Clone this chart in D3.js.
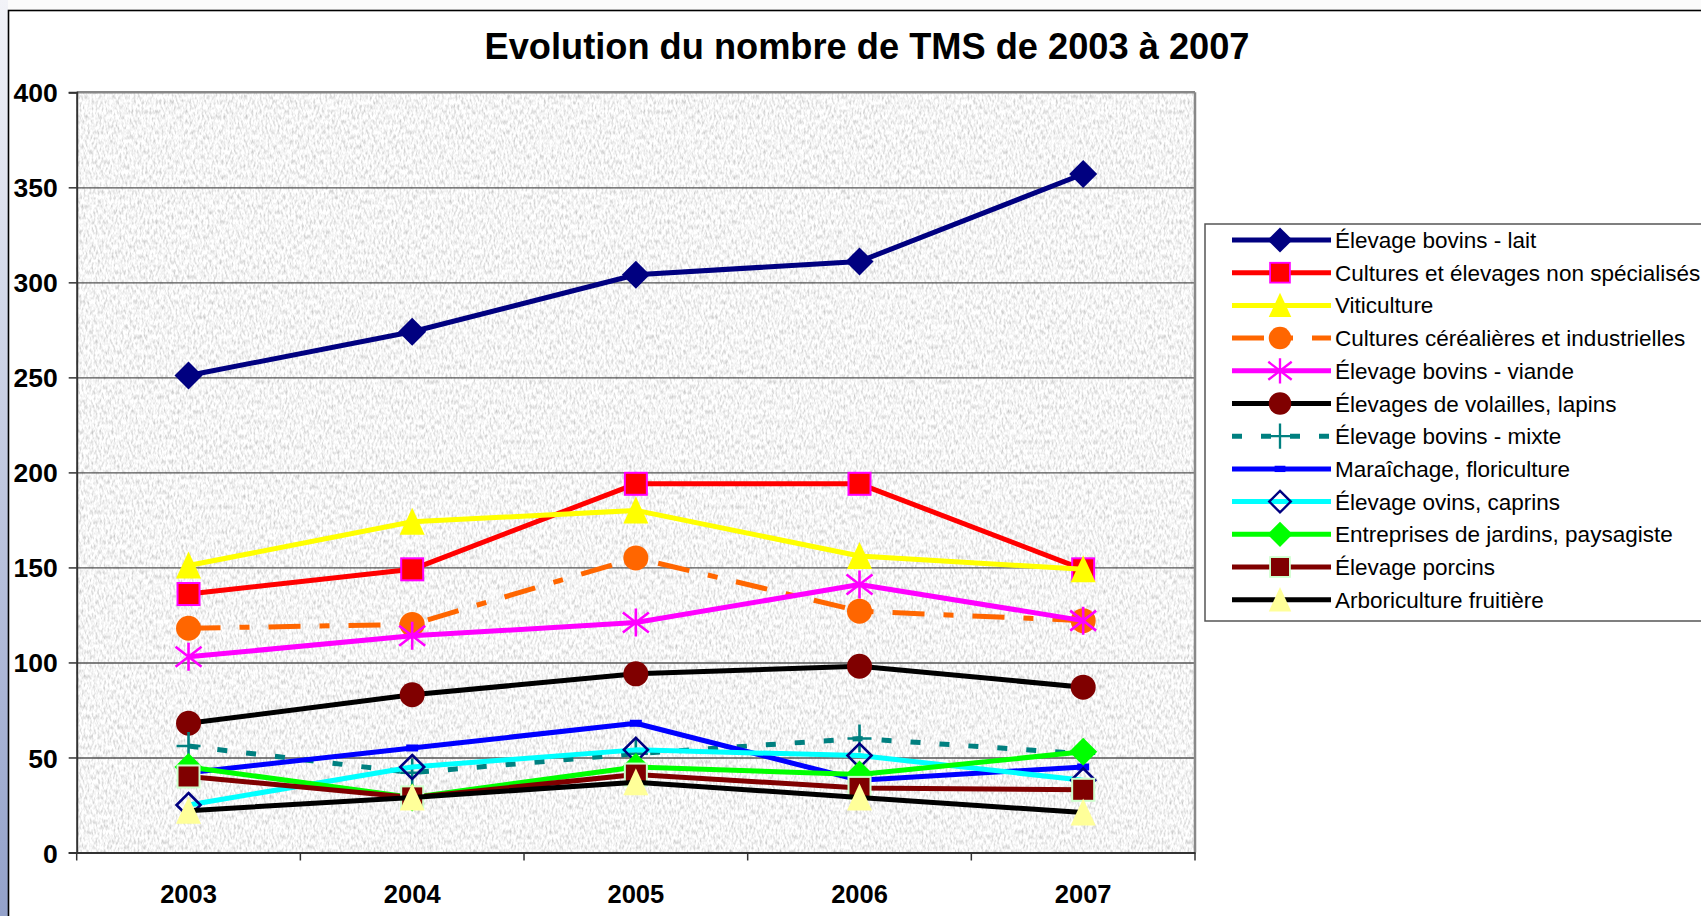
<!DOCTYPE html>
<html>
<head>
<meta charset="utf-8">
<script src="https://cdn.jsdelivr.net/npm/d3@7"></script>
<style>
  html, body { margin: 0; padding: 0; background: #ffffff; }
  svg { display: block; }
  text { font-family: "Liberation Sans", Arial, sans-serif; }
</style>
</head>
<body>
<svg id="chart" width="1701" height="916"></svg>
<script>
// ---------- DATA ----------
const years = ["2003", "2004", "2005", "2006", "2007"];
const yTicks = [0, 50, 100, 150, 200, 250, 300, 350, 400];
const titleText = "Evolution du nombre de TMS de 2003 à 2007";

const seriesNames = [
  "Élevage bovins - lait",
  "Cultures et élevages non spécialisés",
  "Viticulture",
  "Cultures céréalières et industrielles",
  "Élevage bovins - viande",
  "Élevages de volailles, lapins",
  "Élevage bovins - mixte",
  "Maraîchage, floriculture",
  "Élevage ovins, caprins",
  "Entreprises de jardins, paysagiste",
  "Élevage porcins",
  "Arboriculture fruitière"
];
const bovinsLait      = [251, 274, 304, 311, 357];
const nonSpecialises  = [136, 149, 194, 194, 149];
const viticulture     = [151, 174, 180, 156, 149];
const cerealieres     = [118, 120, 155, 127, 122];
const bovinsViande    = [103, 114, 121, 141, 122];
const volailles       = [68, 83, 94, 98, 87];
const bovinsMixte     = [56, 42, 52, 60, 52];
const maraichage      = [42, 55, 68, 38, 45];
const ovinsCaprins    = [25, 45, 54, 51, 38];
const jardins         = [45, 29, 45, 41, 53];
const porcins         = [40, 29, 41, 34, 33];
const arboriculture   = [22, 29, 37, 29, 21];
const seriesValues = [bovinsLait, nonSpecialises, viticulture, cerealieres, bovinsViande,
  volailles, bovinsMixte, maraichage, ovinsCaprins, jardins, porcins, arboriculture];

// ---------- STYLES ----------
const styles = [
  { line: "#000080", dash: null, marker: "diamond", fill: "#000080", stroke: "none" },
  { line: "#FF0000", dash: null, marker: "square", fill: "#FF0000", stroke: "#FF00FF" },
  { line: "#FFFF00", dash: null, marker: "triangle", fill: "#FFFF00", stroke: "none" },
  { line: "#FF6600", dash: "32,19,10,19", marker: "circle", fill: "#FF6600", stroke: "none" },
  { line: "#FF00FF", dash: null, marker: "star", fill: "none", stroke: "#FF00FF" },
  { line: "#000000", dash: null, marker: "circle", fill: "#800000", stroke: "none" },
  { line: "#008080", dash: "10,19", marker: "plus", fill: "none", stroke: "#008080" },
  { line: "#0000FF", dash: null, marker: "dash", fill: "#0000FF", stroke: "none" },
  { line: "#00FFFF", dash: null, marker: "hollowDiamond", fill: "none", stroke: "#000080" },
  { line: "#00FF00", dash: null, marker: "diamond", fill: "#00FF00", stroke: "none" },
  { line: "#800000", dash: null, marker: "square", fill: "#800000", stroke: "#CCFFCC" },
  { line: "#000000", dash: null, marker: "triangle", fill: "#FFFF99", stroke: "none" }
];

// ---------- LAYOUT ----------
const svg = d3.select("#chart");
const plot = { left: 76.7, right: 1195, top: 92.3, bottom: 852.5 };

const defs = svg.append("defs");
const grad = defs.append("linearGradient").attr("id", "strip").attr("x1", 0).attr("y1", 0).attr("x2", 0).attr("y2", 1);
grad.append("stop").attr("offset", "0%").attr("stop-color", "#f2f3f8");
grad.append("stop").attr("offset", "100%").attr("stop-color", "#93a1ca");

const filt = defs.append("filter").attr("id", "granite")
  .attr("x", 0).attr("y", 0).attr("width", "100%").attr("height", "100%");
filt.append("feTurbulence").attr("type", "fractalNoise")
  .attr("baseFrequency", "0.5 0.2").attr("numOctaves", 2).attr("seed", 7).attr("result", "noise");
filt.append("feColorMatrix").attr("in", "noise").attr("type", "matrix")
  .attr("values", "0.9 0 0 0 0.46  0.9 0 0 0 0.46  0.9 0 0 0 0.46  0 0 0 0 1");

// Slide background strip and chart border
svg.append("rect").attr("x", 0).attr("y", 0).attr("width", 1701).attr("height", 916).attr("fill", "#fbfbfb");
svg.append("rect").attr("x", 0).attr("y", 0).attr("width", 8).attr("height", 916).attr("fill", "url(#strip)");
svg.append("rect").attr("x", 8.5).attr("y", 10.5).attr("width", 1800).attr("height", 1000)
  .attr("fill", "#ffffff").attr("stroke", "#000000").attr("stroke-width", 1.6);

// Title
svg.append("text").attr("x", 867).attr("y", 59).attr("text-anchor", "middle")
  .attr("font-size", 37.5).attr("font-weight", "bold").attr("fill", "#000")
  .attr("textLength", 765).attr("lengthAdjust", "spacingAndGlyphs")
  .text(titleText);

// Scales
const x = d3.scaleBand().domain(years).range([plot.left, plot.right]).padding(0);
const y = d3.scaleLinear().domain([0, 400]).range([plot.bottom, plot.top]);
const cx = d => x(d) + x.bandwidth() / 2;

// Plot background
svg.append("rect").attr("x", plot.left).attr("y", plot.top)
  .attr("width", plot.right - plot.left).attr("height", plot.bottom - plot.top)
  .attr("fill", "#e6e6e6");
svg.append("rect").attr("x", plot.left).attr("y", plot.top)
  .attr("width", plot.right - plot.left).attr("height", plot.bottom - plot.top)
  .attr("filter", "url(#granite)");

// Gridlines
const grid = svg.append("g").attr("transform", `translate(${plot.left},0)`)
  .call(d3.axisLeft(y).tickValues(yTicks.filter(t => t > 0 && t < 400)).tickSize(-(plot.right - plot.left)).tickFormat(""));
grid.select(".domain").remove();
grid.selectAll("line").attr("stroke", "#555555").attr("stroke-width", 1.4);

// Plot border top/right
svg.append("line").attr("x1", plot.left).attr("x2", plot.right).attr("y1", plot.top).attr("y2", plot.top)
  .attr("stroke", "#888888").attr("stroke-width", 2.5);
svg.append("line").attr("x1", plot.right).attr("x2", plot.right).attr("y1", plot.top).attr("y2", plot.bottom)
  .attr("stroke", "#888888").attr("stroke-width", 2.5);

// Y axis
const yAxis = svg.append("g").attr("transform", `translate(${plot.left},0)`)
  .call(d3.axisLeft(y).tickValues(yTicks).tickSize(8).tickPadding(11).tickFormat(d3.format("d")));
yAxis.select(".domain").attr("stroke", "#333333").attr("stroke-width", 2);
yAxis.selectAll("line").attr("stroke", "#333333").attr("stroke-width", 1.5);
yAxis.selectAll("text").attr("font-size", 26.5).attr("font-weight", "bold").attr("fill", "#000")
  .attr("font-family", "'Liberation Sans', Arial, sans-serif").attr("dy", "0.36em");

// X axis (labels at band centres, ticks at band boundaries)
const xAxis = svg.append("g").attr("transform", `translate(0,${plot.bottom})`)
  .call(d3.axisBottom(x).tickSize(0).tickPadding(32));
xAxis.select(".domain").attr("stroke", "#333333").attr("stroke-width", 2);
xAxis.selectAll("text").attr("font-size", 25.5).attr("font-weight", "bold").attr("fill", "#000")
  .attr("font-family", "'Liberation Sans', Arial, sans-serif");
const boundaries = d3.range(years.length + 1).map(i => plot.left + i * x.step());
svg.append("g").selectAll("line").data(boundaries).join("line")
  .attr("x1", d => d).attr("x2", d => d).attr("y1", plot.bottom).attr("y2", plot.bottom + 8)
  .attr("stroke", "#333333").attr("stroke-width", 1.5);

// Marker drawing
function drawMarker(g, type, st) {
  let el;
  switch (type) {
    case "diamond":
      el = g.append("path").attr("d", "M0,-14L14,0L0,14L-14,0Z"); break;
    case "hollowDiamond":
      el = g.append("path").attr("d", "M0,-12L12,0L0,12L-12,0Z").attr("stroke-width", 2.6); break;
    case "square":
      el = g.append("rect").attr("x", -11).attr("y", -11).attr("width", 22).attr("height", 22).attr("stroke-width", 2); break;
    case "triangle":
      el = g.append("path").attr("d", "M0,-14L12.5,13L-12.5,13Z"); break;
    case "circle":
      el = g.append("circle").attr("r", 12.5); break;
    case "star":
      el = g.append("path").attr("d", "M0,-14L0,14M-13,-10L13,10M-13,10L13,-10").attr("stroke-width", 2.6); break;
    case "plus":
      el = g.append("path").attr("d", "M-12,0L12,0M0,-14L0,14").attr("stroke-width", 2.6); break;
    case "dash":
      el = g.append("rect").attr("x", -6).attr("y", -3.5).attr("width", 12).attr("height", 7); break;
  }
  el.attr("fill", st.fill).attr("stroke", st.stroke);
}

// Series
const line = d3.line().x((d, i) => cx(years[i])).y(d => y(d));
seriesValues.forEach((vals, si) => {
  const st = styles[si];
  const g = svg.append("g");
  g.append("path").datum(vals).attr("d", line).attr("fill", "none")
    .attr("stroke", st.line).attr("stroke-width", 5).attr("stroke-linejoin", "round")
    .attr("stroke-dasharray", st.dash);
  vals.forEach((v, i) => {
    const mg = g.append("g").attr("transform", `translate(${cx(years[i])},${y(v)})`);
    drawMarker(mg, st.marker, st);
  });
});

// Legend
const leg = { x: 1205, y: 224, rowTop: 240, step: 32.7 };
svg.append("rect").attr("x", leg.x).attr("y", leg.y).attr("width", 600).attr("height", 397)
  .attr("fill", "#ffffff").attr("stroke", "#555555").attr("stroke-width", 1.5);
seriesNames.forEach((name, si) => {
  const st = styles[si];
  const yy = leg.rowTop + si * leg.step;
  const g = svg.append("g");
  g.append("line").attr("x1", 1232).attr("x2", 1331).attr("y1", yy).attr("y2", yy)
    .attr("stroke", st.line).attr("stroke-width", 5).attr("stroke-dasharray", st.dash);
  const mg = g.append("g").attr("transform", `translate(1280,${yy})`);
  drawMarker(mg, st.marker, st);
  mg.attr("transform", `translate(1280,${yy}) scale(0.9)`);
  g.append("text").attr("x", 1335).attr("y", yy + 8).attr("font-size", 22.5).attr("fill", "#000")
    .text(name);
});
</script>
</body>
</html>
